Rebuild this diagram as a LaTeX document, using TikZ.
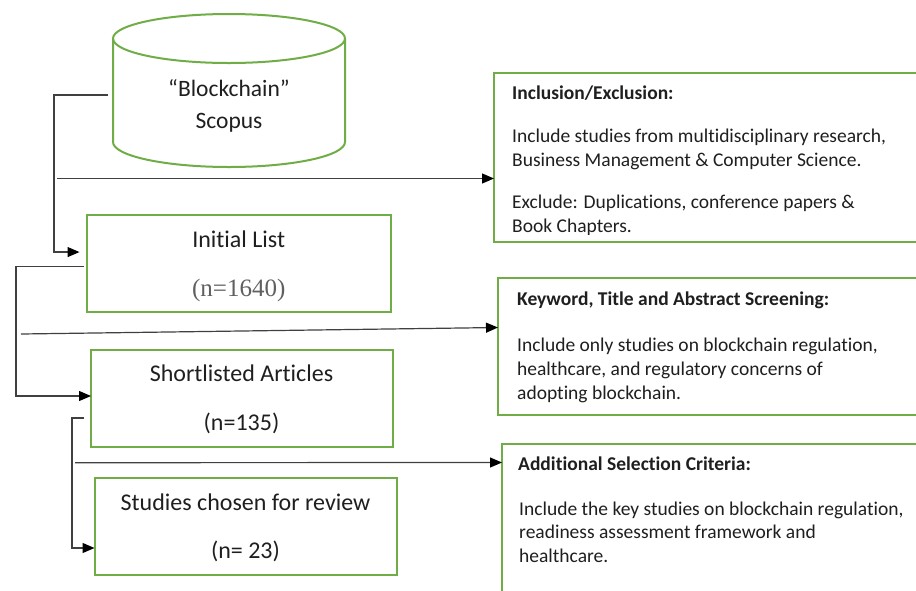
\documentclass[tikz,border=0pt]{standalone}
\usepackage{fontspec}
\setmainfont{Carlito}[Ligatures={NoCommon}]
\newfontfamily\timesf{Liberation Serif}
\usetikzlibrary{arrows.meta,calc}
\definecolor{grn}{HTML}{70AD47}
\definecolor{lngray}{HTML}{404040}
\definecolor{txt}{HTML}{1F1F1F}
\definecolor{ngray}{HTML}{606060}
\begin{document}
\begin{tikzpicture}[x=1pt,y=-1pt,
  lbox/.style={draw=grn, line width=2pt, rectangle, inner sep=0pt, outer sep=0pt, anchor=north west},
  grnline/.style={draw=grn, line width=2pt},
  conn/.style={draw=lngray, line width=1.2pt, -{Triangle[length=12pt,width=10pt,color=black]}},
  ltext/.style={font=\fontsize{24}{28}\selectfont, text=txt, anchor=base, inner sep=0pt},
  ntext/.style={font=\timesf\fontsize{25}{28}\selectfont, text=ngray, anchor=base, inner sep=0pt},
  rtext/.style={font=\fontsize{19.5}{23}\selectfont, text=txt, anchor=base west, inner sep=0pt},
  rhead/.style={rtext, font=\fontsize{19.5}{23}\selectfont\bfseries}
]
\useasboundingbox (0,0) rectangle (916,590);
\clip (0,0) rectangle (916,590);
\fill[white] (0,0) rectangle (916,590);

% cylinder
\node[inner sep=0pt, outer sep=0pt, minimum width=232pt, minimum height=153pt, anchor=north west] (db) at (113,14) {};
\draw[grnline] (113,38.5) -- (113,142) arc[start angle=180, end angle=0, x radius=116, y radius=25] -- (345,38.5);
\draw[grnline] (229,38.5) ellipse [x radius=116, y radius=24.5];
\node[ltext, font=\fontsize{23.5}{28}\selectfont] (dbt1) at (229,96.7) {“Blockchain”};
\node[ltext, font=\fontsize{23.5}{28}\selectfont] (dbt2) at (229,128) {Scopus};

% left boxes
\node[lbox, minimum width=304.5pt, minimum height=96.5pt] (init) at (86.5,215) {};
\node[ltext] (initt) at (238.7,247.3) {Initial List};
\node[ntext] (initn) at (238.7,296.7) {(n=1640)};

\node[lbox, minimum width=301.5pt, minimum height=97pt] (short) at (91,350) {};
\node[ltext] (shortt) at (241.5,381.7) {Shortlisted Articles};
\node[ltext] (shortn) at (241.5,430.7) {(n=135)};

\node[lbox, minimum width=302.5pt, minimum height=97pt] (study) at (94.5,478) {};
\node[ltext] (studyt) at (245.5,510) {Studies chosen for review};
\node[ltext] (studyn) at (245.5,558) {(n= 23)};

% right boxes
\node[lbox, minimum width=440pt, minimum height=169pt] (incl) at (494,73) {};
\node[rhead] (inclh) at (512,99) {Inclusion/Exclusion:};
\node[rtext] (incl1) at (512,142) {Include studies from multidisciplinary research,};
\node[rtext] (incl2) at (512,166) {Business Management \& Computer Science.};
\node[rtext] (incl3) at (512,208) {Exclude: Duplications, conference papers \&};
\begin{scope}
\clip (494,75) rectangle (916,234);
\node[rtext] (incl4) at (512,232) {Book Chapters.};
\end{scope}

\node[lbox, minimum width=436pt, minimum height=137pt] (kw) at (498,278) {};
\node[rhead] (kwh) at (517,305) {Keyword, Title and Abstract Screening:};
\node[rtext] (kw1) at (517,351) {Include only studies on blockchain regulation,};
\node[rtext] (kw2) at (517,375) {healthcare, and regulatory concerns of};
\node[rtext] (kw3) at (517,399) {adopting blockchain.};

\node[lbox, minimum width=432pt, minimum height=160pt] (add) at (502,444) {};
\node[rhead] (addh) at (518,470) {Additional Selection Criteria:};
\node[rtext] (add1) at (519,515) {Include the key studies on blockchain regulation,};
\node[rtext] (add2) at (519,538) {readiness assessment framework and};
\node[rtext] (add3) at (519,562) {healthcare.};

% connectors
\draw[conn, shorten >=7pt] ([shift={(-5,4.5)}]db.west) -- ++(-54,0) |- ([shift={(0,-11.2)}]init.west);
\draw[conn] ([shift={(-2.5,3.5)}]init.west) -- ++(-68,0) |- ([shift={(0,-2.5)}]short.west);
\draw[conn] ([shift={(-7,19.5)}]short.west) -- ++(-12,0) |- ([shift={(0,21.5)}]study.west);

\coordinate (h1) at (57,178.5);
\coordinate (h2) at (21,334);
\coordinate (h3) at (75,462.7);
\draw[conn] (h1) -- ([shift={(0,21)}]incl.west);
\draw[conn] (h2) -- ([shift={(0,-19)}]kw.west);
\draw[conn] (h3) -- ([shift={(0,-61.5)}]add.west);
\end{tikzpicture}
\end{document}
